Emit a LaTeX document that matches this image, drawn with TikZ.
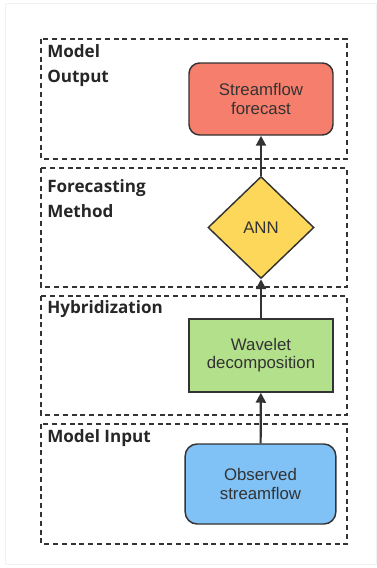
\documentclass[tikz,border=0pt]{standalone}
\usepackage{fontspec}
\setmainfont{Liberation Sans}
\newfontfamily\labfont{Open Sans}
\usetikzlibrary{arrows.meta,shapes.geometric}

\definecolor{salmon}{HTML}{F57F6C}
\definecolor{annyel}{HTML}{FDD75A}
\definecolor{wavgreen}{HTML}{B3E08A}
\definecolor{obsblue}{HTML}{80C1F6}
\definecolor{edge}{HTML}{333333}

\begin{document}
\begin{tikzpicture}[x=0.75pt,y=-0.75pt,>={Triangle[length=7.5pt,width=7.5pt]},
  font=\fontsize{12.6}{13.6}\selectfont]
\tikzstyle{frame}=[draw=edge,line width=1pt,dash pattern=on 3.8pt off 2.8pt]
\tikzstyle{lab}=[anchor=base west,inner sep=0pt,align=left,
  font=\labfont\bfseries\fontsize{12.8}{18.6}\selectfont,text=black!85]
\tikzstyle{box}=[draw=edge,line width=1.1pt,align=center,text=black!80,inner sep=0pt]
\useasboundingbox (0,0) rectangle (377,568);
\draw[gray!10,line width=0.6pt] (5.5,3.5) rectangle (376,564.5);

% the four stages
\draw[frame] (41,39) rectangle (347,159);
\draw[frame] (41,168) rectangle (347,287);
\draw[frame] (41,296) rectangle (347,415);
\draw[frame] (41,424) rectangle (347,544);
\node[lab] (lout) at (47,82) {Model\\Output};
\node[lab] (lmet) at (47,217) {Forecasting\\Method};
\node[lab] (lhyb) at (47,313) {Hybridization};
\node[lab] (linp) at (47,442) {Model Input};

% blocks
\node[box,rounded corners=8pt,fill=salmon,minimum width=108pt,minimum height=54pt] (fc) at (261,99) {Streamflow\\forecast};
\node[box,diamond,fill=annyel,minimum width=79.5pt,minimum height=76.5pt] (ann) at (261,227.5) {ANN};
\node[box,fill=wavgreen,minimum width=108pt,minimum height=54.75pt] (wav) at (261,355.5) {Wavelet\\decomposition};
\node[box,rounded corners=9pt,fill=obsblue,minimum width=113pt,minimum height=60pt] (obs) at (260.5,484) {Observed\\streamflow};

\draw[->,edge,line width=1.6pt] (obs) -- (wav);
\draw[->,edge,line width=1.6pt] (wav) -- (ann);
\draw[->,edge,line width=1.6pt] (ann) -- (fc);
\end{tikzpicture}
\end{document}
